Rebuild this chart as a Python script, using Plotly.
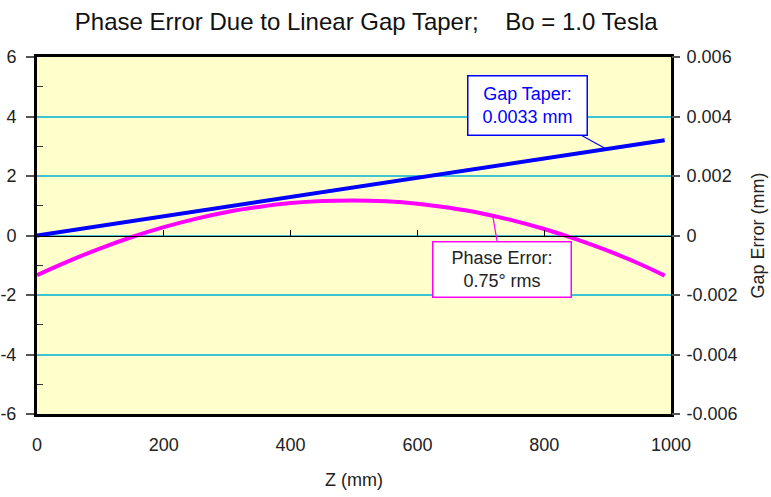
import plotly.graph_objects as go

# ---- data ----
z_mm = [0, 50, 100, 150, 200, 250, 300, 350, 400, 450, 500, 550, 600, 650,
        700, 750, 800, 850, 900, 950, 990]
phase_err = [-1.33, -0.86, -0.43, -0.05, 0.28, 0.56, 0.79, 0.96, 1.09, 1.16,
             1.18, 1.15, 1.07, 0.93, 0.75, 0.51, 0.22, -0.12, -0.51, -0.95, -1.35]
gap_z = [0, 990]
gap_err = [0.0, 0.0032]

x_ticks = [0, 200, 400, 600, 800, 1000]
y_ticks = [-6, -4, -2, 0, 2, 4, 6]
y_labels = ["-6", "-4", "-2", "0", "2", "4", "6"]
y2_ticks = [-0.006, -0.004, -0.002, 0, 0.002, 0.004, 0.006]
y2_labels = ["-0.006", "-0.004", "-0.002", "0", "0.002", "0.004", "0.006"]

FONT = "Liberation Sans, Arial, sans-serif"
GRID = "#3cc4d0"

fig = go.Figure()
fig.add_trace(go.Scatter(x=z_mm, y=phase_err, mode="lines",
                         line=dict(color="#ff00ff", width=4, shape="spline"),
                         xaxis="x", yaxis="y", showlegend=False))
fig.add_trace(go.Scatter(x=gap_z, y=gap_err, mode="lines",
                         line=dict(color="#0000ff", width=4),
                         xaxis="x2", yaxis="y2", showlegend=False))

fig.update_layout(
    width=771, height=497,
    margin=dict(l=37, r=100, t=57, b=83),
    paper_bgcolor="white", plot_bgcolor="#ffffcc",
    font=dict(family=FONT, size=18, color="#222222"),
    title=dict(text="Phase Error Due to Linear Gap Taper;\u00a0\u00a0\u00a0 Bo = 1.0 Tesla",
               x=0.475, xanchor="center", y=1 - 22 / 497, yanchor="middle",
               font=dict(size=24, color="#111111", family=FONT)),
    xaxis=dict(range=[0, 1000], tickvals=x_ticks, ticks="", ticklabelstandoff=12,
               showgrid=False, zeroline=False, automargin=False,
               showline=True, linecolor="black", linewidth=3, mirror=True,
               title=dict(text="Z (mm)", standoff=20, font=dict(size=18))),
    xaxis2=dict(range=[0, 1000], overlaying="x", anchor="free", position=0.5,
                side="top", tickvals=[200, 400, 600, 800], ticks="outside",
                ticklen=6, tickcolor="black", tickwidth=1, showticklabels=False,
                showline=True, linecolor="black", linewidth=1, showgrid=False,
                zeroline=False, automargin=False),
    yaxis=dict(range=[-6, 6], tickvals=y_ticks, ticktext=y_labels,
               ticks="outside", ticklen=8,
               tickcolor="#555555", tickwidth=2, ticklabelstandoff=6,
               showgrid=True, gridcolor=GRID, gridwidth=1.5, zeroline=False,
               showline=True, linecolor="black", linewidth=3, mirror=True,
               automargin=False,
               minor=dict(tickvals=[-5, -3, -1, 1, 3, 5], ticks="inside",
                          ticklen=6, tickcolor="#333333", tickwidth=1,
                          showgrid=False)),
    yaxis2=dict(range=[-0.006, 0.006], overlaying="y", side="right", anchor="x",
                tickvals=y2_ticks, ticktext=y2_labels, ticks="outside", ticklen=8,
                tickcolor="#555555", tickwidth=2, ticklabelstandoff=3,
                showgrid=False, zeroline=False, automargin=False,
                title=dict(text="Gap Error (mm)", standoff=14, font=dict(size=18))),
    annotations=[
        dict(x=900, y=0.00288, xref="x2", yref="y2",
             text="Gap Taper:<br>0.0033 mm", showarrow=True, arrowhead=0,
             arrowwidth=1.2, arrowcolor="#0000ff", ax=-80, ay=-44,
             font=dict(size=18, color="#0000ff", family=FONT),
             bgcolor="white", bordercolor="#0000ff", borderwidth=1.5,
             borderpad=2, width=114, height=54),
        dict(x=719, y=0.64, xref="x", yref="y",
             text="Phase Error:<br>0.75° rms", showarrow=True, arrowhead=0,
             arrowwidth=1.2, arrowcolor="#ff00ff", ax=9, ay=53,
             font=dict(size=18, color="#222222", family=FONT),
             bgcolor="white", bordercolor="#ff00ff", borderwidth=1.5,
             borderpad=2, width=133, height=50),
    ],
)

fig.write_html("out.html")
